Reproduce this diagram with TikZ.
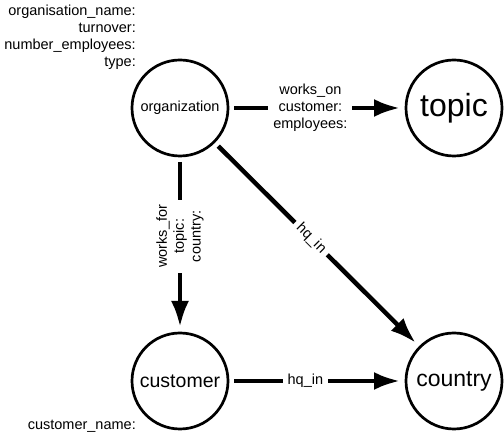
\documentclass[tikz,border=0pt]{standalone}
\usepackage{fontspec}
\setmainfont{Liberation Sans}
\usetikzlibrary{arrows.meta,positioning}

\begin{document}
\begin{tikzpicture}[x=1pt,y=-1pt,
	entity/.style={circle,draw,line width=2.7pt,minimum size=96pt,inner sep=0pt,outer sep=6pt},
	rel/.style={line width=4.5pt,-{Latex[length=26pt,width=18pt]}},
	rellabel/.style={fill=white,inner xsep=5pt,inner ysep=1pt,align=center,font=\fontsize{14.5}{17}\selectfont},
	props/.style={align=right,inner sep=0pt,font=\fontsize{14.5}{17}\selectfont}]
	\useasboundingbox (0,0) rectangle (504,435);
	% entities
	\node[entity,font=\fontsize{14.5}{17}\selectfont] (org) at (180,108) {organization};
	\node[entity,font=\fontsize{32}{36}\selectfont] (topic) at (454,108) {topic};
	\node[entity,font=\fontsize{19.5}{22}\selectfont] (cust) at (180,381) {customer};
	\node[entity,font=\fontsize{23}{26}\selectfont] (country) at (454,381) {country};
	% properties
	\node[props,anchor=north east] (orgprops) at (136,4.5) {organisation\_name:\\turnover:\\number\_employees:\\type:};
	\node[props,anchor=east] (custprops) at (136,426) {customer\_name:};
	% relations
	\draw[rel] (org) -- node[rellabel,pos=0.46] {works\_on\\customer:\\employees:} (topic);
	\draw[rel] (org) -- node[rellabel,rotate=90,pos=0.45] {works\_for\\topic:\\country:} (cust);
	\draw[rel] (org) -- node[rellabel,sloped,pos=0.47] {hq\_in} (country);
	\draw[rel] (cust) -- node[rellabel,pos=0.43] {hq\_in} (country);
\end{tikzpicture}
\end{document}
